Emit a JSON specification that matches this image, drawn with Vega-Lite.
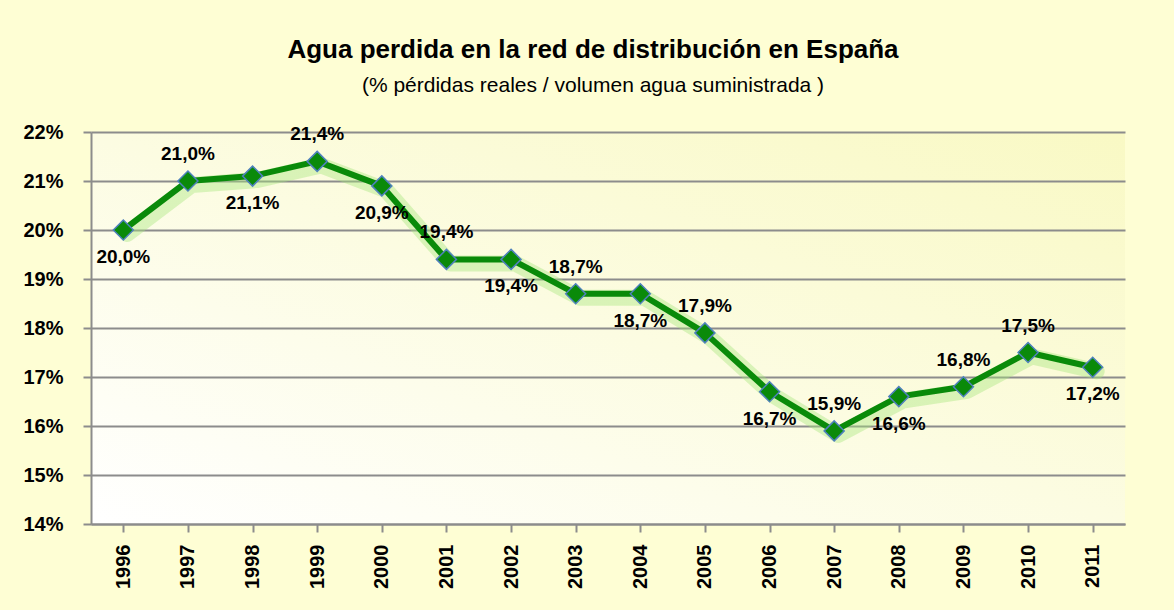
{
  "$schema": "https://vega.github.io/schema/vega-lite/v6.json",
  "width": 1034,
  "height": 392,
  "autosize": "none",
  "padding": {"left": 91, "top": 132, "right": 49, "bottom": 86},
  "background": "#FEFED4",
  "config": {
    "locale": {"number": {"decimal": ",", "thousands": ".", "grouping": [3], "currency": ["", " €"]}},
    "font": "Liberation Sans",
    "view": {
      "stroke": null,
      "fill": {"gradient": "linear", "x1": 0, "y1": 1, "x2": 1, "y2": 0, "stops": [{"offset": 0, "color": "#FFFFFF"}, {"offset": 1, "color": "#F9F9C4"}]}
    }
  },
  "title": {
    "text": "Agua perdida en la red de distribución en España",
    "subtitle": "(% pérdidas reales / volumen  agua suministrada   )",
    "anchor": "middle",
    "dx": -15,
    "offset": 26,
    "font": "Liberation Sans",
    "fontSize": 26,
    "fontWeight": "bold",
    "color": "#000000",
    "subtitleFont": "Liberation Sans",
    "subtitleFontSize": 21,
    "subtitleColor": "#000000",
    "subtitlePadding": 12
  },
  "data": {
    "values": [
      {"year": "1996", "value": 0.200},
      {"year": "1997", "value": 0.210},
      {"year": "1998", "value": 0.211},
      {"year": "1999", "value": 0.214},
      {"year": "2000", "value": 0.209},
      {"year": "2001", "value": 0.194},
      {"year": "2002", "value": 0.194},
      {"year": "2003", "value": 0.187},
      {"year": "2004", "value": 0.187},
      {"year": "2005", "value": 0.179},
      {"year": "2006", "value": 0.167},
      {"year": "2007", "value": 0.159},
      {"year": "2008", "value": 0.166},
      {"year": "2009", "value": 0.168},
      {"year": "2010", "value": 0.175},
      {"year": "2011", "value": 0.172}
    ]
  },
  "encoding": {
    "x": {
      "field": "year",
      "type": "ordinal",
      "scale": {"paddingInner": 0, "paddingOuter": 0},
      "axis": {
        "title": null,
        "labelAngle": -90,
        "labelFont": "Liberation Sans",
        "labelFontSize": 20,
        "labelFontWeight": "bold",
        "labelColor": "#000000",
        "labelPadding": 12,
        "bandPosition": 0,
        "tickSize": 8,
        "tickColor": "#8C8C8C",
        "tickWidth": 2,
        "domainColor": "#8C8C8C",
        "domainWidth": 2,
        "grid": false
      }
    },
    "y": {
      "field": "value",
      "type": "quantitative",
      "scale": {"domain": [0.14, 0.22], "nice": false, "zero": false},
      "axis": {
        "title": null,
        "format": ".0%",
        "values": [0.14, 0.15, 0.16, 0.17, 0.18, 0.19, 0.20, 0.21, 0.22],
        "labelFont": "Liberation Sans",
        "labelFontSize": 20,
        "labelFontWeight": "bold",
        "labelColor": "#000000",
        "labelPadding": 20,
        "tickSize": 8,
        "tickColor": "#8C8C8C",
        "tickWidth": 2,
        "domainColor": "#8C8C8C",
        "domainWidth": 2,
        "grid": true,
        "gridColor": "#8C8C8C",
        "gridWidth": 2
      }
    }
  },
  "layer": [
    {
      "mark": {"type": "line", "color": "#A6E67A", "strokeWidth": 16, "opacity": 0.4, "yOffset": 4, "xOffset": 4, "strokeJoin": "round", "strokeCap": "round"}
    },
    {
      "mark": {"type": "line", "color": "#098A09", "strokeWidth": 6, "strokeJoin": "round"}
    },
    {
      "mark": {"type": "point", "shape": "diamond", "size": 400, "filled": true, "color": "#0A8A0A", "stroke": "#4F81BD", "strokeWidth": 1.5, "opacity": 1}
    },
    {
      "transform": [{"filter": {"field": "year", "oneOf": ["1997", "1999", "2001", "2003", "2005", "2007", "2009", "2010"]}}],
      "mark": {"type": "text", "dy": -27, "font": "Liberation Sans", "fontSize": 19, "fontWeight": "bold", "color": "#000000", "baseline": "middle"},
      "encoding": {"text": {"field": "value", "type": "quantitative", "format": ".1%"}}
    },
    {
      "transform": [{"filter": {"field": "year", "oneOf": ["1996", "1998", "2000", "2002", "2004", "2006", "2008", "2011"]}}],
      "mark": {"type": "text", "dy": 27, "font": "Liberation Sans", "fontSize": 19, "fontWeight": "bold", "color": "#000000", "baseline": "middle"},
      "encoding": {"text": {"field": "value", "type": "quantitative", "format": ".1%"}}
    }
  ]
}
